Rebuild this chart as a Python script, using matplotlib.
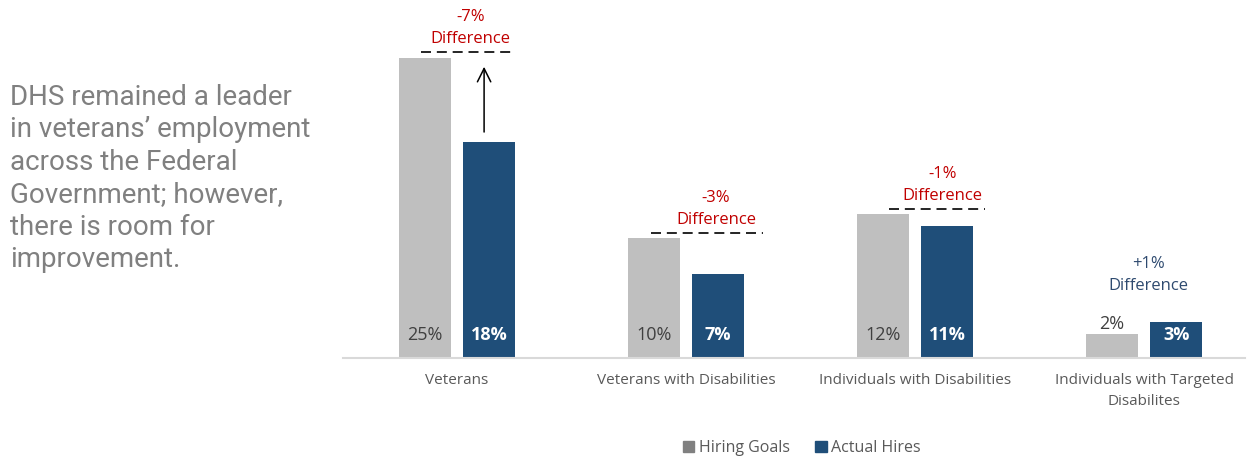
import matplotlib
matplotlib.use('Agg')
import matplotlib.pyplot as plt
from matplotlib.patches import Patch

categories = ['Veterans', 'Veterans with Disabilities',
              'Individuals with Disabilities',
              'Individuals with Targeted\nDisabilites']
hiring_goals = [25, 10, 12, 2]
actual_hires = [18, 7, 11, 3]
diff_labels = ['-7%\nDifference', '-3%\nDifference', '-1%\nDifference', '+1%\nDifference']

GRAY = '#BFBFBF'
BLUE = '#1F4E79'
RED = '#C00000'
NAVY = '#2E4A6F'

plt.rcParams['font.family'] = ['Open Sans', 'DejaVu Sans']

fig = plt.figure(figsize=(12.48, 4.59), dpi=100)
# axes: x 343..1245 px, baseline at y=358 px
ax = fig.add_axes([343 / 1248, (459 - 358) / 459, (1245 - 343) / 1248, 358 / 459])

x = list(range(len(categories)))
w = 0.227
off = 0.14
ax.bar([i - off for i in x], hiring_goals, w, color=GRAY, label='Hiring Goals')
ax.bar([i + off for i in x], actual_hires, w, color=BLUE, label='Actual Hires')

ax.set_xlim(-0.498, 3.44)
ax.set_ylim(0, 358 / 12)

# value labels
for i, (g, a) in enumerate(zip(hiring_goals, actual_hires)):
    gy = 1.9 if g > 4 else g + 0.8
    ax.text(i - off, gy, f'{g}%', ha='center', va='center', fontsize=13, color='#404040')
    ax.text(i + off, 1.9, f'{a}%', ha='center', va='center', fontsize=13,
            color='white', fontweight='bold')

# difference annotations
line_span = [(-0.157, 0.249), (-0.153, 0.336), (-0.114, 0.306), None]
text_x = [0.06, 0.13, 0.12, 0.02]
for i in x:
    g, a = hiring_goals[i], actual_hires[i]
    top = max(g, a)
    if line_span[i] is not None:
        x0, x1 = line_span[i]
        ly = g + 0.4 + (0.1 if i == 0 else 0)
        ax.plot([i + x0, i + x1], [ly, ly], color='black', lw=1.2,
                ls=(0, (6, 3.5)), clip_on=False)
        ty = ly + 0.45
        col = RED
    else:
        ty = top + 2.3
        col = NAVY
    ax.text(i + text_x[i], ty, diff_labels[i], ha='center', va='bottom',
            fontsize=12, color=col, linespacing=1.5, clip_on=False)

# arrow on Veterans
ax.annotate('', xy=(0 + 0.118, hiring_goals[0] - 0.5),
            xytext=(0 + 0.118, actual_hires[0] + 0.6),
            arrowprops=dict(arrowstyle='->', color='black', lw=1.1,
                            mutation_scale=24))

ax.set_xticks(x)
ax.set_xticklabels(categories, fontsize=11, color='#595959', linespacing=1.5)
ax.tick_params(axis='x', length=0, pad=11)
ax.set_yticks([])
for s in ['top', 'right', 'left']:
    ax.spines[s].set_visible(False)
ax.spines['bottom'].set_color('#D9D9D9')
ax.spines['bottom'].set_linewidth(1.5)

handles = [Patch(color='#808080', label='Hiring Goals'),
           Patch(color=BLUE, label='Actual Hires')]
fig.legend(handles=handles, loc='center', bbox_to_anchor=(802 / 1248, 1 - 448 / 459),
           ncol=2, frameon=False, fontsize=11.5, handlelength=0.7, handleheight=0.7,
           handletextpad=0.3, columnspacing=1.6, labelcolor='#595959')

fig.text(10 / 1248, 1 - 84 / 459,
         'DHS remained a leader\nin veterans\u2019 employment\nacross the Federal\n'
         'Government; however,\nthere is room for\nimprovement.',
         ha='left', va='top', fontsize=20, color='#808080', family='Roboto',
         linespacing=1.26)

fig.savefig('out.png', dpi=100)
